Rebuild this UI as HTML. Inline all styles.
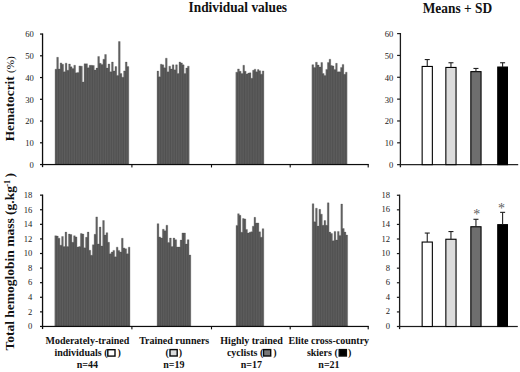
<!DOCTYPE html>
<html><head><meta charset="utf-8"><title>Figure</title>
<style>
html,body{margin:0;padding:0;background:#fff;}
body{width:520px;height:372px;overflow:hidden;font-family:"Liberation Serif",serif;}
svg{display:block;}
svg text{font-family:"Liberation Serif",serif;fill:#111;}
.tk{font-size:8.6px;fill:#222;}
.ttl{font-size:14px;font-weight:bold;}
.yl{font-size:13.3px;font-weight:bold;}
.yl2{font-size:13.5px;font-weight:bold;}
.pct{font-size:11.2px;font-weight:normal;}
.sup{font-size:8px;}
.cl{font-size:10px;font-weight:bold;}
.ast{font-size:14px;fill:#606060;}
</style></head><body>
<svg width="520" height="372" viewBox="0 0 520 372">
<rect width="520" height="372" fill="#fff"/>
<path d="M55.00 164.20 L55.00 69.18 L56.71 69.18 L56.71 57.30 L58.42 57.30 L58.42 68.96 L60.13 68.96 L60.13 62.91 L61.83 62.91 L61.83 64.21 L63.54 64.21 L63.54 71.77 L65.25 71.77 L65.25 63.13 L66.96 63.13 L66.96 70.26 L68.67 70.26 L68.67 63.99 L70.38 63.99 L70.38 66.80 L72.09 66.80 L72.09 68.53 L73.80 68.53 L73.80 65.29 L75.50 65.29 L75.50 72.85 L77.21 72.85 L77.21 72.42 L78.92 72.42 L78.92 65.94 L80.63 65.94 L80.63 66.15 L82.34 66.15 L82.34 81.92 L84.05 81.92 L84.05 63.78 L85.76 63.78 L85.76 63.78 L87.47 63.78 L87.47 67.66 L89.17 67.66 L89.17 65.29 L90.88 65.29 L90.88 65.29 L92.59 65.29 L92.59 65.50 L94.30 65.50 L94.30 70.04 L96.02 70.04 L96.02 68.10 L97.75 68.10 L97.75 56.43 L99.47 56.43 L99.47 63.34 L101.20 63.34 L101.20 64.42 L102.92 64.42 L102.92 59.24 L104.65 59.24 L104.65 54.49 L106.38 54.49 L106.38 68.10 L108.10 68.10 L108.10 63.99 L109.83 63.99 L109.83 71.77 L111.55 71.77 L111.55 62.05 L113.28 62.05 L113.28 70.90 L115.00 70.90 L115.00 66.58 L116.73 66.58 L116.73 75.44 L118.45 75.44 L118.45 41.53 L120.18 41.53 L120.18 73.50 L121.90 73.50 L121.90 77.17 L123.62 77.17 L123.62 70.90 L125.35 70.90 L125.35 62.05 L127.08 62.05 L127.08 66.58 L128.80 66.58 L128.80 164.20 Z" fill="#5a5a5a" stroke="#5a5a5a" stroke-width="0.3" stroke-linejoin="miter"/><path d="M55.85 69.98 V164.20 M57.56 58.10 V164.20 M59.27 69.76 V164.20 M60.98 63.71 V164.20 M62.69 65.01 V164.20 M64.40 72.57 V164.20 M66.11 63.93 V164.20 M67.82 71.06 V164.20 M69.52 64.79 V164.20 M71.23 67.60 V164.20 M72.94 69.33 V164.20 M74.65 66.09 V164.20 M76.36 73.65 V164.20 M78.07 73.22 V164.20 M79.78 66.74 V164.20 M81.48 66.95 V164.20 M83.19 82.72 V164.20 M84.90 64.58 V164.20 M86.61 64.58 V164.20 M88.32 68.46 V164.20 M90.03 66.09 V164.20 M91.74 66.09 V164.20 M93.45 66.30 V164.20 M95.16 70.84 V164.20 M96.89 68.90 V164.20 M98.61 57.23 V164.20 M100.34 64.14 V164.20 M102.06 65.22 V164.20 M103.79 60.04 V164.20 M105.51 55.29 V164.20 M107.24 68.90 V164.20 M108.96 64.79 V164.20 M110.69 72.57 V164.20 M112.41 62.85 V164.20 M114.14 71.70 V164.20 M115.86 67.38 V164.20 M117.59 76.24 V164.20 M119.31 42.33 V164.20 M121.04 74.30 V164.20 M122.76 77.97 V164.20 M124.49 71.70 V164.20 M126.21 62.85 V164.20 M127.94 67.38 V164.20" stroke="#6a6a6a" stroke-width="0.5" fill="none"/><path d="M56.71 69.48 V164.20 M58.42 69.26 V164.20 M60.13 69.26 V164.20 M61.83 64.51 V164.20 M63.54 72.07 V164.20 M65.25 72.07 V164.20 M66.96 70.56 V164.20 M68.67 70.56 V164.20 M70.38 67.10 V164.20 M72.09 68.83 V164.20 M73.80 68.83 V164.20 M75.50 73.15 V164.20 M77.21 73.15 V164.20 M78.92 72.72 V164.20 M80.63 66.45 V164.20 M82.34 82.22 V164.20 M84.05 82.22 V164.20 M85.76 64.08 V164.20 M87.47 67.96 V164.20 M89.17 67.96 V164.20 M90.88 65.59 V164.20 M92.59 65.80 V164.20 M94.30 70.34 V164.20 M96.02 70.34 V164.20 M97.75 68.40 V164.20 M99.47 63.64 V164.20 M101.20 64.72 V164.20 M102.92 64.72 V164.20 M104.65 59.54 V164.20 M106.38 68.40 V164.20 M108.10 68.40 V164.20 M109.83 72.07 V164.20 M111.55 72.07 V164.20 M113.28 71.20 V164.20 M115.00 71.20 V164.20 M116.73 75.74 V164.20 M118.45 75.74 V164.20 M120.18 73.80 V164.20 M121.90 77.47 V164.20 M123.62 77.47 V164.20 M125.35 71.20 V164.20 M127.08 66.88 V164.20" stroke="#4a4a4a" stroke-width="0.55" fill="none"/>
<path d="M157.00 164.20 L157.00 71.12 L158.69 71.12 L158.69 76.74 L160.39 76.74 L160.39 64.21 L162.08 64.21 L162.08 64.86 L163.78 64.86 L163.78 67.66 L165.47 67.66 L165.47 58.16 L167.17 58.16 L167.17 71.77 L168.86 71.77 L168.86 66.15 L170.56 66.15 L170.56 68.96 L172.25 68.96 L172.25 64.86 L173.95 64.86 L173.95 69.82 L175.64 69.82 L175.64 64.86 L177.34 64.86 L177.34 73.50 L179.03 73.50 L179.03 62.05 L180.73 62.05 L180.73 62.91 L182.42 62.91 L182.42 64.86 L184.12 64.86 L184.12 73.50 L185.81 73.50 L185.81 68.10 L187.51 68.10 L187.51 66.15 L189.20 66.15 L189.20 164.20 Z" fill="#5a5a5a" stroke="#5a5a5a" stroke-width="0.3" stroke-linejoin="miter"/><path d="M157.85 71.92 V164.20 M159.54 77.54 V164.20 M161.24 65.01 V164.20 M162.93 65.66 V164.20 M164.63 68.46 V164.20 M166.32 58.96 V164.20 M168.02 72.57 V164.20 M169.71 66.95 V164.20 M171.41 69.76 V164.20 M173.10 65.66 V164.20 M174.79 70.62 V164.20 M176.49 65.66 V164.20 M178.18 74.30 V164.20 M179.88 62.85 V164.20 M181.57 63.71 V164.20 M183.27 65.66 V164.20 M184.96 74.30 V164.20 M186.66 68.90 V164.20 M188.35 66.95 V164.20" stroke="#6a6a6a" stroke-width="0.5" fill="none"/><path d="M158.69 77.04 V164.20 M160.39 77.04 V164.20 M162.08 65.16 V164.20 M163.78 67.96 V164.20 M165.47 67.96 V164.20 M167.17 72.07 V164.20 M168.86 72.07 V164.20 M170.56 69.26 V164.20 M172.25 69.26 V164.20 M173.95 70.12 V164.20 M175.64 70.12 V164.20 M177.34 73.80 V164.20 M179.03 73.80 V164.20 M180.73 63.21 V164.20 M182.42 65.16 V164.20 M184.12 73.80 V164.20 M185.81 73.80 V164.20 M187.51 68.40 V164.20" stroke="#4a4a4a" stroke-width="0.55" fill="none"/>
<path d="M235.80 164.20 L235.80 72.20 L237.58 72.20 L237.58 68.96 L239.35 68.96 L239.35 71.34 L241.12 71.34 L241.12 73.50 L242.90 73.50 L242.90 65.29 L244.52 65.29 L244.52 71.34 L246.13 71.34 L246.13 73.93 L247.75 73.93 L247.75 73.06 L249.36 73.06 L249.36 72.85 L250.98 72.85 L250.98 78.25 L252.59 78.25 L252.59 70.26 L254.21 70.26 L254.21 69.18 L255.82 69.18 L255.82 71.77 L257.44 71.77 L257.44 69.61 L259.05 69.61 L259.05 70.69 L260.67 70.69 L260.67 74.14 L262.28 74.14 L262.28 70.90 L263.90 70.90 L263.90 164.20 Z" fill="#5a5a5a" stroke="#5a5a5a" stroke-width="0.3" stroke-linejoin="miter"/><path d="M236.69 73.00 V164.20 M238.46 69.76 V164.20 M240.24 72.14 V164.20 M242.01 74.30 V164.20 M243.71 66.09 V164.20 M245.32 72.14 V164.20 M246.94 74.73 V164.20 M248.55 73.86 V164.20 M250.17 73.65 V164.20 M251.78 79.05 V164.20 M253.40 71.06 V164.20 M255.02 69.98 V164.20 M256.63 72.57 V164.20 M258.25 70.41 V164.20 M259.86 71.49 V164.20 M261.48 74.94 V164.20 M263.09 71.70 V164.20" stroke="#6a6a6a" stroke-width="0.5" fill="none"/><path d="M237.58 72.50 V164.20 M239.35 71.64 V164.20 M241.12 73.80 V164.20 M242.90 73.80 V164.20 M244.52 71.64 V164.20 M246.13 74.23 V164.20 M247.75 74.23 V164.20 M249.36 73.36 V164.20 M250.98 78.55 V164.20 M252.59 78.55 V164.20 M254.21 70.56 V164.20 M255.82 72.07 V164.20 M257.44 72.07 V164.20 M259.05 70.99 V164.20 M260.67 74.44 V164.20 M262.28 74.44 V164.20" stroke="#4a4a4a" stroke-width="0.55" fill="none"/>
<path d="M311.90 164.20 L311.90 64.64 L313.70 64.64 L313.70 67.45 L315.50 67.45 L315.50 62.26 L317.30 62.26 L317.30 65.07 L319.10 65.07 L319.10 67.02 L320.90 67.02 L320.90 62.48 L322.54 62.48 L322.54 73.50 L324.17 73.50 L324.17 75.44 L325.81 75.44 L325.81 69.39 L327.45 69.39 L327.45 62.48 L329.09 62.48 L329.09 59.24 L330.73 59.24 L330.73 65.50 L332.36 65.50 L332.36 65.94 L334.00 65.94 L334.00 69.39 L335.64 69.39 L335.64 63.34 L337.27 63.34 L337.27 71.77 L338.91 71.77 L338.91 71.77 L340.55 71.77 L340.55 67.45 L342.19 67.45 L342.19 64.42 L343.83 64.42 L343.83 74.36 L345.46 74.36 L345.46 72.20 L347.10 72.20 L347.10 164.20 Z" fill="#5a5a5a" stroke="#5a5a5a" stroke-width="0.3" stroke-linejoin="miter"/><path d="M312.80 65.44 V164.20 M314.60 68.25 V164.20 M316.40 63.06 V164.20 M318.20 65.87 V164.20 M320.00 67.82 V164.20 M321.72 63.28 V164.20 M323.36 74.30 V164.20 M324.99 76.24 V164.20 M326.63 70.19 V164.20 M328.27 63.28 V164.20 M329.91 60.04 V164.20 M331.54 66.30 V164.20 M333.18 66.74 V164.20 M334.82 70.19 V164.20 M336.46 64.14 V164.20 M338.09 72.57 V164.20 M339.73 72.57 V164.20 M341.37 68.25 V164.20 M343.01 65.22 V164.20 M344.64 75.16 V164.20 M346.28 73.00 V164.20" stroke="#6a6a6a" stroke-width="0.5" fill="none"/><path d="M313.70 67.75 V164.20 M315.50 67.75 V164.20 M317.30 65.37 V164.20 M319.10 67.32 V164.20 M320.90 67.32 V164.20 M322.54 73.80 V164.20 M324.17 75.74 V164.20 M325.81 75.74 V164.20 M327.45 69.69 V164.20 M329.09 62.78 V164.20 M330.73 65.80 V164.20 M332.36 66.24 V164.20 M334.00 69.69 V164.20 M335.64 69.69 V164.20 M337.27 72.07 V164.20 M338.91 72.07 V164.20 M340.55 72.07 V164.20 M342.19 67.75 V164.20 M343.83 74.66 V164.20 M345.46 74.66 V164.20" stroke="#4a4a4a" stroke-width="0.55" fill="none"/>
<path d="M54.80 326.10 L54.80 235.75 L56.51 235.75 L56.51 236.11 L58.22 236.11 L58.22 238.14 L59.93 238.14 L59.93 245.17 L61.64 245.17 L61.64 236.47 L63.35 236.47 L63.35 246.62 L65.05 246.62 L65.05 232.12 L66.76 232.12 L66.76 246.62 L68.47 246.62 L68.47 234.08 L70.18 234.08 L70.18 234.52 L71.89 234.52 L71.89 242.27 L73.60 242.27 L73.60 235.75 L75.31 235.75 L75.31 236.91 L77.02 236.91 L77.02 246.99 L78.73 246.99 L78.73 246.62 L80.44 246.62 L80.44 233.43 L82.15 233.43 L82.15 234.08 L83.85 234.08 L83.85 247.86 L85.56 247.86 L85.56 237.34 L87.27 237.34 L87.27 232.12 L88.98 232.12 L88.98 250.25 L90.69 250.25 L90.69 255.32 L92.40 255.32 L92.40 244.74 L94.11 244.74 L94.11 234.30 L95.82 234.30 L95.82 216.90 L97.53 216.90 L97.53 243.94 L99.24 243.94 L99.24 227.05 L100.95 227.05 L100.95 245.90 L102.65 245.90 L102.65 220.52 L104.36 220.52 L104.36 235.02 L106.07 235.02 L106.07 232.63 L107.78 232.63 L107.78 242.27 L109.49 242.27 L109.49 253.66 L111.20 253.66 L111.20 251.99 L112.91 251.99 L112.91 250.39 L114.62 250.39 L114.62 256.85 L116.33 256.85 L116.33 247.13 L118.04 247.13 L118.04 250.39 L119.75 250.39 L119.75 251.99 L121.45 251.99 L121.45 238.29 L123.16 238.29 L123.16 247.93 L124.87 247.93 L124.87 248.80 L126.58 248.80 L126.58 253.66 L128.29 253.66 L128.29 247.13 L130.00 247.13 L130.00 326.10 Z" fill="#5a5a5a" stroke="#5a5a5a" stroke-width="0.3" stroke-linejoin="miter"/><path d="M55.65 236.55 V326.10 M57.36 236.91 V326.10 M59.07 238.94 V326.10 M60.78 245.97 V326.10 M62.49 237.27 V326.10 M64.20 247.42 V326.10 M65.91 232.92 V326.10 M67.62 247.42 V326.10 M69.33 234.88 V326.10 M71.04 235.32 V326.10 M72.75 243.07 V326.10 M74.45 236.55 V326.10 M76.16 237.71 V326.10 M77.87 247.79 V326.10 M79.58 247.42 V326.10 M81.29 234.23 V326.10 M83.00 234.88 V326.10 M84.71 248.66 V326.10 M86.42 238.14 V326.10 M88.13 232.92 V326.10 M89.84 251.05 V326.10 M91.55 256.12 V326.10 M93.25 245.54 V326.10 M94.96 235.10 V326.10 M96.67 217.70 V326.10 M98.38 244.74 V326.10 M100.09 227.85 V326.10 M101.80 246.70 V326.10 M103.51 221.32 V326.10 M105.22 235.82 V326.10 M106.93 233.43 V326.10 M108.64 243.07 V326.10 M110.35 254.46 V326.10 M112.05 252.79 V326.10 M113.76 251.19 V326.10 M115.47 257.65 V326.10 M117.18 247.93 V326.10 M118.89 251.19 V326.10 M120.60 252.79 V326.10 M122.31 239.09 V326.10 M124.02 248.73 V326.10 M125.73 249.60 V326.10 M127.44 254.46 V326.10 M129.15 247.93 V326.10" stroke="#6a6a6a" stroke-width="0.5" fill="none"/><path d="M56.51 236.41 V326.10 M58.22 238.44 V326.10 M59.93 245.47 V326.10 M61.64 245.47 V326.10 M63.35 246.92 V326.10 M65.05 246.92 V326.10 M66.76 246.92 V326.10 M68.47 246.92 V326.10 M70.18 234.82 V326.10 M71.89 242.57 V326.10 M73.60 242.57 V326.10 M75.31 237.21 V326.10 M77.02 247.29 V326.10 M78.73 247.29 V326.10 M80.44 246.92 V326.10 M82.15 234.38 V326.10 M83.85 248.16 V326.10 M85.56 248.16 V326.10 M87.27 237.64 V326.10 M88.98 250.55 V326.10 M90.69 255.62 V326.10 M92.40 255.62 V326.10 M94.11 245.04 V326.10 M95.82 234.60 V326.10 M97.53 244.24 V326.10 M99.24 244.24 V326.10 M100.95 246.20 V326.10 M102.65 246.20 V326.10 M104.36 235.32 V326.10 M106.07 235.32 V326.10 M107.78 242.57 V326.10 M109.49 253.96 V326.10 M111.20 253.96 V326.10 M112.91 252.29 V326.10 M114.62 257.15 V326.10 M116.33 257.15 V326.10 M118.04 250.69 V326.10 M119.75 252.29 V326.10 M121.45 252.29 V326.10 M123.16 248.23 V326.10 M124.87 249.10 V326.10 M126.58 253.96 V326.10 M128.29 253.96 V326.10" stroke="#4a4a4a" stroke-width="0.55" fill="none"/>
<path d="M157.10 326.10 L157.10 223.64 L158.87 223.64 L158.87 236.98 L160.65 236.98 L160.65 237.92 L162.42 237.92 L162.42 229.22 L164.19 229.22 L164.19 230.67 L165.97 230.67 L165.97 225.24 L167.74 225.24 L167.74 242.49 L169.52 242.49 L169.52 238.07 L171.29 238.07 L171.29 246.62 L173.06 246.62 L173.06 238.07 L174.84 238.07 L174.84 239.66 L176.61 239.66 L176.61 246.99 L178.38 246.99 L178.38 246.99 L180.16 246.99 L180.16 240.10 L181.93 240.10 L181.93 232.99 L183.71 232.99 L183.71 232.99 L185.48 232.99 L185.48 244.09 L187.25 244.09 L187.25 239.66 L189.03 239.66 L189.03 255.03 L190.80 255.03 L190.80 326.10 Z" fill="#5a5a5a" stroke="#5a5a5a" stroke-width="0.3" stroke-linejoin="miter"/><path d="M157.99 224.44 V326.10 M159.76 237.78 V326.10 M161.53 238.72 V326.10 M163.31 230.02 V326.10 M165.08 231.47 V326.10 M166.86 226.04 V326.10 M168.63 243.29 V326.10 M170.40 238.87 V326.10 M172.18 247.42 V326.10 M173.95 238.87 V326.10 M175.72 240.46 V326.10 M177.50 247.79 V326.10 M179.27 247.79 V326.10 M181.04 240.90 V326.10 M182.82 233.79 V326.10 M184.59 233.79 V326.10 M186.37 244.89 V326.10 M188.14 240.46 V326.10 M189.91 255.83 V326.10" stroke="#6a6a6a" stroke-width="0.5" fill="none"/><path d="M158.87 237.28 V326.10 M160.65 238.22 V326.10 M162.42 238.22 V326.10 M164.19 230.97 V326.10 M165.97 230.97 V326.10 M167.74 242.79 V326.10 M169.52 242.79 V326.10 M171.29 246.92 V326.10 M173.06 246.92 V326.10 M174.84 239.96 V326.10 M176.61 247.29 V326.10 M178.38 247.29 V326.10 M180.16 247.29 V326.10 M181.93 240.40 V326.10 M183.71 233.29 V326.10 M185.48 244.39 V326.10 M187.25 244.39 V326.10 M189.03 255.33 V326.10" stroke="#4a4a4a" stroke-width="0.55" fill="none"/>
<path d="M236.00 326.10 L236.00 225.38 L237.64 225.38 L237.64 213.71 L239.27 213.71 L239.27 215.30 L240.91 215.30 L240.91 232.27 L242.54 232.27 L242.54 218.49 L244.18 218.49 L244.18 218.93 L245.81 218.93 L245.81 229.44 L247.45 229.44 L247.45 233.07 L249.08 233.07 L249.08 232.27 L250.72 232.27 L250.72 231.76 L252.35 231.76 L252.35 226.18 L253.99 226.18 L253.99 217.33 L255.62 217.33 L255.62 222.99 L257.26 222.99 L257.26 222.99 L258.89 222.99 L258.89 231.83 L260.53 231.83 L260.53 237.20 L262.16 237.20 L262.16 228.64 L263.80 228.64 L263.80 326.10 Z" fill="#5a5a5a" stroke="#5a5a5a" stroke-width="0.3" stroke-linejoin="miter"/><path d="M236.82 226.18 V326.10 M238.45 214.51 V326.10 M240.09 216.10 V326.10 M241.72 233.07 V326.10 M243.36 219.29 V326.10 M244.99 219.73 V326.10 M246.63 230.24 V326.10 M248.26 233.87 V326.10 M249.90 233.07 V326.10 M251.54 232.56 V326.10 M253.17 226.98 V326.10 M254.81 218.13 V326.10 M256.44 223.79 V326.10 M258.08 223.79 V326.10 M259.71 232.63 V326.10 M261.35 238.00 V326.10 M262.98 229.44 V326.10" stroke="#6a6a6a" stroke-width="0.5" fill="none"/><path d="M237.64 225.68 V326.10 M239.27 215.60 V326.10 M240.91 232.57 V326.10 M242.54 232.57 V326.10 M244.18 219.23 V326.10 M245.81 229.74 V326.10 M247.45 233.37 V326.10 M249.08 233.37 V326.10 M250.72 232.57 V326.10 M252.35 232.06 V326.10 M253.99 226.48 V326.10 M255.62 223.29 V326.10 M257.26 223.29 V326.10 M258.89 232.13 V326.10 M260.53 237.50 V326.10 M262.16 237.50 V326.10" stroke="#4a4a4a" stroke-width="0.55" fill="none"/>
<path d="M312.20 326.10 L312.20 203.70 L313.89 203.70 L313.89 221.68 L315.57 221.68 L315.57 208.20 L317.26 208.20 L317.26 226.11 L318.94 226.11 L318.94 209.36 L320.63 209.36 L320.63 214.14 L322.31 214.14 L322.31 225.31 L324.00 225.31 L324.00 220.52 L325.69 220.52 L325.69 225.31 L327.37 225.31 L327.37 202.83 L329.06 202.83 L329.06 232.12 L330.74 232.12 L330.74 233.43 L332.43 233.43 L332.43 240.68 L334.11 240.68 L334.11 231.40 L335.80 231.40 L335.80 239.88 L337.49 239.88 L337.49 231.40 L339.17 231.40 L339.17 235.39 L340.86 235.39 L340.86 204.07 L342.54 204.07 L342.54 228.50 L344.23 228.50 L344.23 232.12 L345.91 232.12 L345.91 235.02 L347.60 235.02 L347.60 326.10 Z" fill="#5a5a5a" stroke="#5a5a5a" stroke-width="0.3" stroke-linejoin="miter"/><path d="M313.04 204.50 V326.10 M314.73 222.48 V326.10 M316.41 209.00 V326.10 M318.10 226.91 V326.10 M319.79 210.16 V326.10 M321.47 214.94 V326.10 M323.16 226.11 V326.10 M324.84 221.32 V326.10 M326.53 226.11 V326.10 M328.21 203.63 V326.10 M329.90 232.92 V326.10 M331.59 234.23 V326.10 M333.27 241.48 V326.10 M334.96 232.20 V326.10 M336.64 240.68 V326.10 M338.33 232.20 V326.10 M340.01 236.19 V326.10 M341.70 204.87 V326.10 M343.39 229.30 V326.10 M345.07 232.92 V326.10 M346.76 235.82 V326.10" stroke="#6a6a6a" stroke-width="0.5" fill="none"/><path d="M313.89 221.98 V326.10 M315.57 221.98 V326.10 M317.26 226.41 V326.10 M318.94 226.41 V326.10 M320.63 214.44 V326.10 M322.31 225.61 V326.10 M324.00 225.61 V326.10 M325.69 225.61 V326.10 M327.37 225.61 V326.10 M329.06 232.42 V326.10 M330.74 233.73 V326.10 M332.43 240.98 V326.10 M334.11 240.98 V326.10 M335.80 240.18 V326.10 M337.49 240.18 V326.10 M339.17 235.69 V326.10 M340.86 235.69 V326.10 M342.54 228.80 V326.10 M344.23 232.42 V326.10 M345.91 235.32 V326.10" stroke="#4a4a4a" stroke-width="0.55" fill="none"/>
<rect x="41.90" y="33.45" width="1.3" height="133.70" fill="#0c0c0c"/>
<rect x="40.00" y="163.95" width="328.80" height="1.2" fill="#0c0c0c"/>
<rect x="131.35" y="164.55" width="1.1" height="2.9" fill="#0c0c0c"/>
<rect x="210.95" y="164.55" width="1.1" height="2.9" fill="#0c0c0c"/>
<rect x="289.65" y="164.55" width="1.1" height="2.9" fill="#0c0c0c"/>
<rect x="367.65" y="164.55" width="1.1" height="2.9" fill="#0c0c0c"/>
<text x="33.80" y="167.95" text-anchor="end" class="tk">0</text>
<rect x="40.00" y="142.20" width="2.55" height="1.2" fill="#0c0c0c"/>
<text x="33.80" y="146.20" text-anchor="end" class="tk">10</text>
<rect x="40.00" y="120.45" width="2.55" height="1.2" fill="#0c0c0c"/>
<text x="33.80" y="124.45" text-anchor="end" class="tk">20</text>
<rect x="40.00" y="98.70" width="2.55" height="1.2" fill="#0c0c0c"/>
<text x="33.80" y="102.70" text-anchor="end" class="tk">30</text>
<rect x="40.00" y="76.95" width="2.55" height="1.2" fill="#0c0c0c"/>
<text x="33.80" y="80.95" text-anchor="end" class="tk">40</text>
<rect x="40.00" y="55.20" width="2.55" height="1.2" fill="#0c0c0c"/>
<text x="33.80" y="59.20" text-anchor="end" class="tk">50</text>
<rect x="40.00" y="33.45" width="2.55" height="1.2" fill="#0c0c0c"/>
<text x="33.80" y="37.45" text-anchor="end" class="tk">60</text>
<rect x="41.90" y="194.55" width="1.3" height="134.50" fill="#0c0c0c"/>
<rect x="40.00" y="325.85" width="328.80" height="1.2" fill="#0c0c0c"/>
<rect x="131.35" y="326.45" width="1.1" height="2.9" fill="#0c0c0c"/>
<rect x="210.95" y="326.45" width="1.1" height="2.9" fill="#0c0c0c"/>
<rect x="289.65" y="326.45" width="1.1" height="2.9" fill="#0c0c0c"/>
<rect x="367.65" y="326.45" width="1.1" height="2.9" fill="#0c0c0c"/>
<text x="32.40" y="329.25" text-anchor="end" class="tk">0</text>
<rect x="40.00" y="311.26" width="2.55" height="1.2" fill="#0c0c0c"/>
<text x="32.40" y="314.66" text-anchor="end" class="tk">2</text>
<rect x="40.00" y="296.67" width="2.55" height="1.2" fill="#0c0c0c"/>
<text x="32.40" y="300.07" text-anchor="end" class="tk">4</text>
<rect x="40.00" y="282.08" width="2.55" height="1.2" fill="#0c0c0c"/>
<text x="32.40" y="285.48" text-anchor="end" class="tk">6</text>
<rect x="40.00" y="267.49" width="2.55" height="1.2" fill="#0c0c0c"/>
<text x="32.40" y="270.89" text-anchor="end" class="tk">8</text>
<rect x="40.00" y="252.91" width="2.55" height="1.2" fill="#0c0c0c"/>
<text x="32.40" y="256.31" text-anchor="end" class="tk">10</text>
<rect x="40.00" y="238.32" width="2.55" height="1.2" fill="#0c0c0c"/>
<text x="32.40" y="241.72" text-anchor="end" class="tk">12</text>
<rect x="40.00" y="223.73" width="2.55" height="1.2" fill="#0c0c0c"/>
<text x="32.40" y="227.13" text-anchor="end" class="tk">14</text>
<rect x="40.00" y="209.14" width="2.55" height="1.2" fill="#0c0c0c"/>
<text x="32.40" y="212.54" text-anchor="end" class="tk">16</text>
<rect x="40.00" y="194.55" width="2.55" height="1.2" fill="#0c0c0c"/>
<text x="32.40" y="197.95" text-anchor="end" class="tk">18</text>
<rect x="399.75" y="33.00" width="1.3" height="134.25" fill="#1c1c1c"/>
<rect x="397.10" y="164.05" width="121.10" height="1.2" fill="#1c1c1c"/>
<text x="393.30" y="168.05" text-anchor="end" class="tk">0</text>
<rect x="397.10" y="142.21" width="3.30" height="1.2" fill="#1c1c1c"/>
<text x="393.30" y="146.21" text-anchor="end" class="tk">10</text>
<rect x="397.10" y="120.37" width="3.30" height="1.2" fill="#1c1c1c"/>
<text x="393.30" y="124.37" text-anchor="end" class="tk">20</text>
<rect x="397.10" y="98.53" width="3.30" height="1.2" fill="#1c1c1c"/>
<text x="393.30" y="102.53" text-anchor="end" class="tk">30</text>
<rect x="397.10" y="76.68" width="3.30" height="1.2" fill="#1c1c1c"/>
<text x="393.30" y="80.68" text-anchor="end" class="tk">40</text>
<rect x="397.10" y="54.84" width="3.30" height="1.2" fill="#1c1c1c"/>
<text x="393.30" y="58.84" text-anchor="end" class="tk">50</text>
<rect x="397.10" y="33.00" width="3.30" height="1.2" fill="#1c1c1c"/>
<text x="393.30" y="37.00" text-anchor="end" class="tk">60</text>
<rect x="398.95" y="194.65" width="1.3" height="134.45" fill="#1c1c1c"/>
<rect x="396.90" y="325.90" width="120.90" height="1.2" fill="#1c1c1c"/>
<text x="390.10" y="329.05" text-anchor="end" class="tk">0</text>
<rect x="396.90" y="311.32" width="2.70" height="1.2" fill="#1c1c1c"/>
<text x="390.10" y="314.47" text-anchor="end" class="tk">2</text>
<rect x="396.90" y="296.73" width="2.70" height="1.2" fill="#1c1c1c"/>
<text x="390.10" y="299.88" text-anchor="end" class="tk">4</text>
<rect x="396.90" y="282.15" width="2.70" height="1.2" fill="#1c1c1c"/>
<text x="390.10" y="285.30" text-anchor="end" class="tk">6</text>
<rect x="396.90" y="267.57" width="2.70" height="1.2" fill="#1c1c1c"/>
<text x="390.10" y="270.72" text-anchor="end" class="tk">8</text>
<rect x="396.90" y="252.98" width="2.70" height="1.2" fill="#1c1c1c"/>
<text x="390.10" y="256.13" text-anchor="end" class="tk">10</text>
<rect x="396.90" y="238.40" width="2.70" height="1.2" fill="#1c1c1c"/>
<text x="390.10" y="241.55" text-anchor="end" class="tk">12</text>
<rect x="396.90" y="223.82" width="2.70" height="1.2" fill="#1c1c1c"/>
<text x="390.10" y="226.97" text-anchor="end" class="tk">14</text>
<rect x="396.90" y="209.23" width="2.70" height="1.2" fill="#1c1c1c"/>
<text x="390.10" y="212.38" text-anchor="end" class="tk">16</text>
<rect x="396.90" y="194.65" width="2.70" height="1.2" fill="#1c1c1c"/>
<text x="390.10" y="197.80" text-anchor="end" class="tk">18</text>
<rect x="422.15" y="66.45" width="10.20" height="98.20" fill="#ffffff" stroke="#000" stroke-width="1.1"/>
<rect x="426.70" y="59.50" width="1.1" height="6.90" fill="#222"/>
<rect x="424.75" y="59.00" width="5" height="1.1" fill="#222"/>
<rect x="445.85" y="67.45" width="10.20" height="97.20" fill="#dcdcdc" stroke="#000" stroke-width="1.1"/>
<rect x="450.40" y="62.70" width="1.1" height="4.70" fill="#222"/>
<rect x="448.45" y="62.20" width="5" height="1.1" fill="#222"/>
<rect x="470.85" y="71.65" width="10.20" height="93.00" fill="#6e6e6e" stroke="#000" stroke-width="1.1"/>
<rect x="475.40" y="68.40" width="1.1" height="3.20" fill="#222"/>
<rect x="473.45" y="67.90" width="5" height="1.1" fill="#222"/>
<rect x="497.75" y="67.05" width="9.70" height="97.60" fill="#000000" stroke="#000" stroke-width="1.1"/>
<rect x="502.05" y="62.70" width="1.1" height="4.30" fill="#222"/>
<rect x="500.10" y="62.20" width="5" height="1.1" fill="#222"/>
<rect x="422.15" y="242.05" width="10.20" height="84.45" fill="#ffffff" stroke="#000" stroke-width="1.1"/>
<rect x="426.70" y="233.00" width="1.1" height="9.00" fill="#222"/>
<rect x="424.75" y="232.50" width="5" height="1.1" fill="#222"/>
<rect x="445.85" y="239.25" width="10.20" height="87.25" fill="#dcdcdc" stroke="#000" stroke-width="1.1"/>
<rect x="450.40" y="231.50" width="1.1" height="7.70" fill="#222"/>
<rect x="448.45" y="231.00" width="5" height="1.1" fill="#222"/>
<rect x="470.85" y="226.75" width="10.20" height="99.75" fill="#6e6e6e" stroke="#000" stroke-width="1.1"/>
<rect x="475.40" y="219.25" width="1.1" height="7.45" fill="#222"/>
<rect x="473.45" y="218.75" width="5" height="1.1" fill="#222"/>
<rect x="497.75" y="224.65" width="9.70" height="101.85" fill="#000000" stroke="#000" stroke-width="1.1"/>
<rect x="502.05" y="212.30" width="1.1" height="12.30" fill="#222"/>
<rect x="500.10" y="211.80" width="5" height="1.1" fill="#222"/>
<text x="476.7" y="219.4" text-anchor="middle" class="ast">*</text>
<text x="501.4" y="213.1" text-anchor="middle" class="ast">*</text>
<text transform="translate(237.8,12.0) scale(0.957,1)" text-anchor="middle" class="ttl">Individual values</text>
<text transform="translate(457.4,12.7) scale(0.957,1)" text-anchor="middle" class="ttl">Means + SD</text>
<text transform="translate(14.3,141.3) rotate(-90)" class="yl">Hematocrit <tspan class="pct">(%)</tspan></text>
<text transform="translate(14.3,350.6) rotate(-90)" class="yl2">Total hemoglobin mass (g.kg<tspan class="sup" dy="-4.5" dx="-0.5">-1</tspan><tspan dy="4.5" dx="2.4">)</tspan></text>
<text x="87.4" y="343.8" text-anchor="middle" class="cl">Moderately-trained</text>
<text x="54.4" y="356.0" class="cl">individuals (</text>
<text x="117.6" y="356.0" class="cl">)</text>
<rect x="107.80" y="349.70" width="7.2" height="6.4" fill="#fff" stroke="#0a0a0a" stroke-width="1.4"/>
<text x="87.4" y="367.6" text-anchor="middle" class="cl">n=44</text>
<text x="174.2" y="343.8" text-anchor="middle" class="cl">Trained runners</text>
<text x="165.6" y="356.0" class="cl">(</text>
<text x="178.7" y="356.0" class="cl">)</text>
<rect x="170.00" y="349.60" width="7.2" height="6.4" fill="#dcdcdc" stroke="#0a0a0a" stroke-width="1.4"/>
<text x="173.9" y="367.6" text-anchor="middle" class="cl">n=19</text>
<text x="251.6" y="343.8" text-anchor="middle" class="cl">Highly trained</text>
<text x="226.9" y="356.0" class="cl">cyclists (</text>
<text x="273.2" y="356.0" class="cl">)</text>
<rect x="263.50" y="349.60" width="7.2" height="6.4" fill="#777" stroke="#0a0a0a" stroke-width="1.4"/>
<text x="251.3" y="367.6" text-anchor="middle" class="cl">n=17</text>
<text x="328.8" y="343.8" text-anchor="middle" class="cl">Elite cross-country</text>
<text x="306.9" y="356.0" class="cl">skiers (</text>
<text x="348.0" y="356.0" class="cl">)</text>
<rect x="339.20" y="349.60" width="7.2" height="6.4" fill="#000" stroke="#0a0a0a" stroke-width="1.4"/>
<text x="329.0" y="367.6" text-anchor="middle" class="cl">n=21</text>
</svg>
</body></html>
